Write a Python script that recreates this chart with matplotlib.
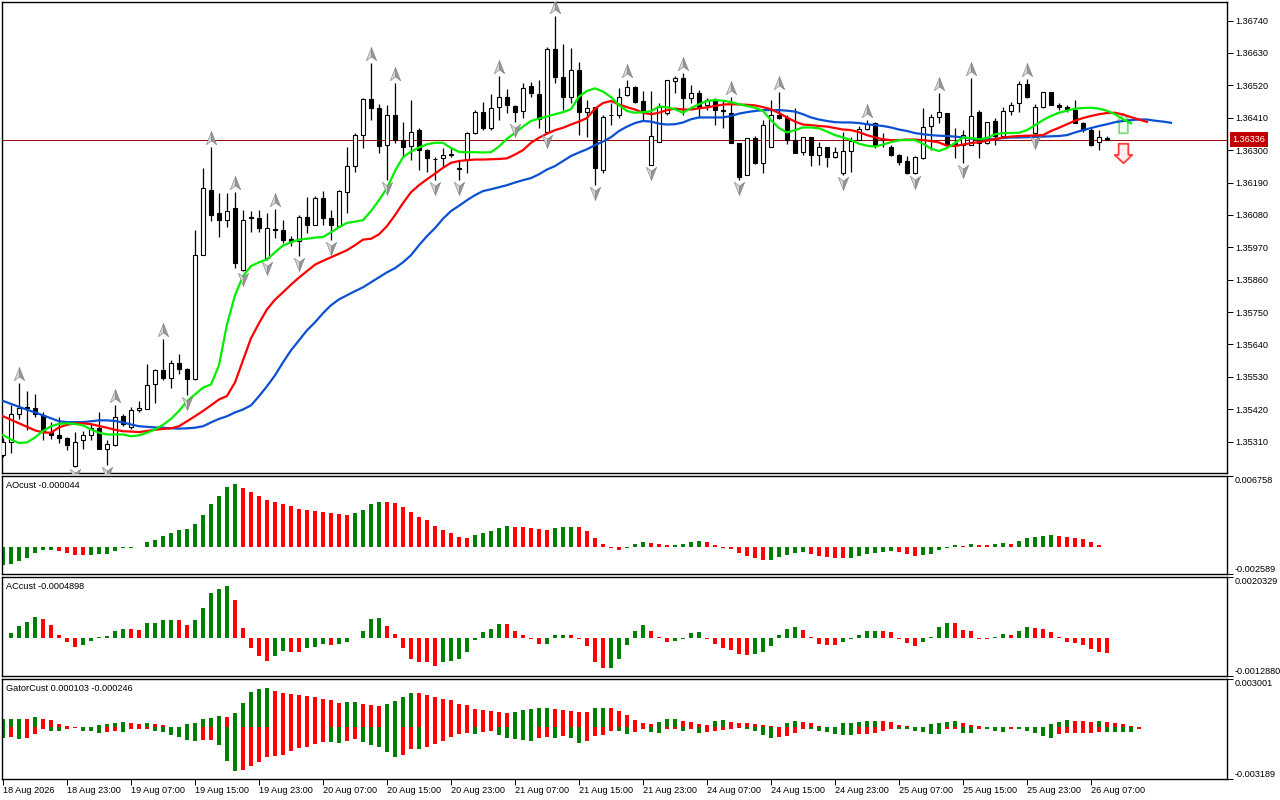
import numpy as np
import matplotlib.pyplot as plt
from matplotlib.path import Path
from matplotlib.transforms import offset_copy, blended_transform_factory

plt.rcParams['font.family'] = ['Liberation Sans', 'DejaVu Sans']
plt.rcParams['font.size'] = 6.6

# ---- H1 candles, 18 Aug 15:00 .. 26 Aug 09:00 ----
opens = [
    1.35266, 1.35308, 1.35405, 1.35426, 1.35423, 1.35399, 1.35342, 1.35333, 1.35323, 1.35226,
    1.35314, 1.35333, 1.35357, 1.35286, 1.35300, 1.35396, 1.35359, 1.35416, 1.35422, 1.35507,
    1.35554, 1.35526, 1.35578, 1.35558, 1.35521, 1.35945, 1.36166, 1.36088, 1.36064, 1.36102,
    1.35892, 1.36070, 1.36071, 1.35935, 1.36031, 1.36030, 1.35997, 1.35992, 1.36073, 1.36045,
    1.36136, 1.36068, 1.36043, 1.36158, 1.36246, 1.36351, 1.36473, 1.36442, 1.36319, 1.36421,
    1.36336, 1.36315, 1.36368, 1.36302, 1.36271, 1.36272, 1.36285, 1.36240, 1.36268, 1.36357,
    1.36428, 1.36374, 1.36445, 1.36481, 1.36451, 1.36433, 1.36518, 1.36489, 1.36362, 1.36642,
    1.36547, 1.36481, 1.36572, 1.36430, 1.36445, 1.36234, 1.36419, 1.36419, 1.36487, 1.36513,
    1.36467, 1.36251, 1.36328, 1.36425, 1.36536, 1.36544, 1.36476, 1.36495, 1.36453, 1.36472,
    1.36436, 1.36427, 1.36323, 1.36215, 1.36340, 1.36255, 1.36311, 1.36421, 1.36408, 1.36336,
    1.36294, 1.36343, 1.36285, 1.36309, 1.36275, 1.36221, 1.36298, 1.36336, 1.36371, 1.36393,
    1.36337, 1.36311, 1.36285, 1.36263, 1.36223, 1.36272, 1.36383, 1.36411, 1.36425, 1.36323,
    1.36319, 1.36319, 1.36428, 1.36323, 1.36399, 1.36348, 1.36433, 1.36461, 1.36524, 1.36357,
    1.36445, 1.36496, 1.36455, 1.36447, 1.36436, 1.36393, 1.36368, 1.36326, 1.36341,
]
highs = [
    1.35321, 1.35433, 1.35509, 1.35482, 1.35470, 1.35410, 1.35376, 1.35393, 1.35324, 1.35342,
    1.35345, 1.35373, 1.35410, 1.35316, 1.35433, 1.35402, 1.35427, 1.35448, 1.35575, 1.35558,
    1.35660, 1.35588, 1.35609, 1.35559, 1.36028, 1.36238, 1.36310, 1.36153, 1.36153, 1.36158,
    1.36096, 1.36094, 1.36096, 1.36085, 1.36100, 1.36064, 1.36008, 1.36079, 1.36141, 1.36144,
    1.36162, 1.36098, 1.36166, 1.36311, 1.36358, 1.36476, 1.36595, 1.36456, 1.36453, 1.36529,
    1.36396, 1.36472, 1.36374, 1.36303, 1.36277, 1.36306, 1.36306, 1.36266, 1.36362, 1.36436,
    1.36464, 1.36490, 1.36552, 1.36506, 1.36455, 1.36529, 1.36532, 1.36538, 1.36651, 1.36756,
    1.36660, 1.36646, 1.36600, 1.36470, 1.36446, 1.36419, 1.36459, 1.36510, 1.36538, 1.36518,
    1.36502, 1.36502, 1.36459, 1.36538, 1.36552, 1.36562, 1.36521, 1.36504, 1.36476, 1.36477,
    1.36470, 1.36481, 1.36324, 1.36341, 1.36348, 1.36402, 1.36470, 1.36498, 1.36419, 1.36442,
    1.36345, 1.36344, 1.36328, 1.36310, 1.36311, 1.36362, 1.36345, 1.36382, 1.36402, 1.36394,
    1.36357, 1.36318, 1.36286, 1.36280, 1.36280, 1.36442, 1.36422, 1.36495, 1.36427, 1.36374,
    1.36368, 1.36544, 1.36436, 1.36396, 1.36408, 1.36445, 1.36464, 1.36535, 1.36541, 1.36456,
    1.36498, 1.36498, 1.36459, 1.36453, 1.36472, 1.36396, 1.36377, 1.36368, 1.36348,
]
lows = [
    1.35256, 1.35271, 1.35388, 1.35348, 1.35393, 1.35314, 1.35320, 1.35305, 1.35282, 1.35222,
    1.35286, 1.35316, 1.35285, 1.35232, 1.35294, 1.35362, 1.35354, 1.35410, 1.35421, 1.35441,
    1.35518, 1.35493, 1.35541, 1.35467, 1.35520, 1.35944, 1.36060, 1.36005, 1.36039, 1.35898,
    1.35891, 1.36022, 1.36022, 1.35926, 1.36003, 1.35985, 1.35974, 1.35940, 1.36017, 1.36044,
    1.36045, 1.35996, 1.36042, 1.36085, 1.36226, 1.36308, 1.36402, 1.36289, 1.36200, 1.36325,
    1.36277, 1.36266, 1.36234, 1.36226, 1.36198, 1.36243, 1.36277, 1.36200, 1.36223, 1.36356,
    1.36368, 1.36368, 1.36402, 1.36427, 1.36396, 1.36408, 1.36481, 1.36375, 1.36357, 1.36528,
    1.36436, 1.36459, 1.36351, 1.36345, 1.36181, 1.36221, 1.36385, 1.36408, 1.36484, 1.36459,
    1.36402, 1.36250, 1.36327, 1.36419, 1.36493, 1.36419, 1.36459, 1.36413, 1.36436, 1.36385,
    1.36374, 1.36324, 1.36198, 1.36214, 1.36254, 1.36223, 1.36310, 1.36407, 1.36320, 1.36290,
    1.36283, 1.36247, 1.36249, 1.36243, 1.36272, 1.36215, 1.36226, 1.36334, 1.36368, 1.36306,
    1.36311, 1.36280, 1.36249, 1.36220, 1.36218, 1.36271, 1.36300, 1.36393, 1.36318, 1.36272,
    1.36255, 1.36318, 1.36272, 1.36322, 1.36317, 1.36340, 1.36421, 1.36430, 1.36476, 1.36356,
    1.36443, 1.36453, 1.36438, 1.36430, 1.36391, 1.36362, 1.36314, 1.36302, 1.36334,
]
closes = [
    1.35307, 1.35405, 1.35425, 1.35424, 1.35402, 1.35342, 1.35333, 1.35323, 1.35298, 1.35308,
    1.35333, 1.35356, 1.35286, 1.35303, 1.35393, 1.35368, 1.35416, 1.35425, 1.35503, 1.35554,
    1.35526, 1.35578, 1.35555, 1.35521, 1.35945, 1.36173, 1.36081, 1.36064, 1.36094, 1.35915,
    1.36064, 1.36072, 1.36037, 1.36034, 1.36030, 1.35996, 1.35991, 1.36073, 1.36045, 1.36136,
    1.36071, 1.36045, 1.36161, 1.36246, 1.36351, 1.36473, 1.36442, 1.36315, 1.36421, 1.36336,
    1.36311, 1.36362, 1.36302, 1.36272, 1.36269, 1.36283, 1.36286, 1.36235, 1.36357, 1.36428,
    1.36374, 1.36442, 1.36481, 1.36453, 1.36428, 1.36510, 1.36493, 1.36405, 1.36642, 1.36549,
    1.36481, 1.36572, 1.36430, 1.36442, 1.36238, 1.36413, 1.36418, 1.36481, 1.36513, 1.36464,
    1.36430, 1.36348, 1.36447, 1.36537, 1.36544, 1.36476, 1.36493, 1.36447, 1.36472, 1.36436,
    1.36432, 1.36325, 1.36209, 1.36340, 1.36255, 1.36385, 1.36421, 1.36408, 1.36336, 1.36291,
    1.36343, 1.36285, 1.36309, 1.36275, 1.36294, 1.36298, 1.36332, 1.36371, 1.36388, 1.36317,
    1.36335, 1.36285, 1.36258, 1.36223, 1.36275, 1.36379, 1.36411, 1.36428, 1.36319, 1.36317,
    1.36353, 1.36417, 1.36323, 1.36394, 1.36348, 1.36434, 1.36455, 1.36524, 1.36481, 1.36445,
    1.36496, 1.36455, 1.36447, 1.36439, 1.36393, 1.36368, 1.36319, 1.36343, 1.36336,
]

# ---- Alligator (already shifted forward: jaw 8, teeth 5, lips 3 bars) ----
jaw = [
    1.35448, 1.35438, 1.35428, 1.35418, 1.35409, 1.35399, 1.35389, 1.35379, 1.35376, 1.35376,
    1.35376, 1.35379, 1.35382, 1.35382, 1.35380, 1.35375, 1.35368, 1.35362, 1.35360, 1.35358,
    1.35357, 1.35355, 1.35354, 1.35355, 1.35357, 1.35362, 1.35375, 1.35387, 1.35396, 1.35409,
    1.35419, 1.35433, 1.35464, 1.35498, 1.35535, 1.35579, 1.35620, 1.35654, 1.35688, 1.35715,
    1.35746, 1.35773, 1.35793, 1.35807, 1.35821, 1.35834, 1.35851, 1.35868, 1.35885, 1.35899,
    1.35919, 1.35943, 1.35977, 1.36008, 1.36035, 1.36067, 1.36093, 1.36111, 1.36130, 1.36147,
    1.36161, 1.36167, 1.36174, 1.36181, 1.36190, 1.36198, 1.36205, 1.36218, 1.36234, 1.36246,
    1.36263, 1.36280, 1.36292, 1.36303, 1.36317, 1.36329, 1.36344, 1.36365, 1.36380, 1.36392,
    1.36399, 1.36397, 1.36390, 1.36387, 1.36388, 1.36394, 1.36405, 1.36411, 1.36411, 1.36411,
    1.36411, 1.36416, 1.36424, 1.36429, 1.36433, 1.36436, 1.36436, 1.36436, 1.36434, 1.36431,
    1.36422, 1.36411, 1.36404, 1.36399, 1.36395, 1.36394, 1.36394, 1.36392, 1.36388, 1.36385,
    1.36382, 1.36377, 1.36370, 1.36365, 1.36358, 1.36354, 1.36351, 1.36349, 1.36348, 1.36346,
    1.36343, 1.36339, 1.36337, 1.36336, 1.36338, 1.36341, 1.36343, 1.36343, 1.36344, 1.36345,
    1.36346, 1.36347, 1.36348, 1.36351, 1.36360, 1.36368, 1.36375, 1.36382, 1.36388, 1.36395,
    1.36399, 1.36402, 1.36404, 1.36404, 1.36400, 1.36397, 1.36393,
]
teeth = [
    1.35396, 1.35384, 1.35372, 1.35360, 1.35348, 1.35341, 1.35340, 1.35358, 1.35367, 1.35372,
    1.35372, 1.35369, 1.35363, 1.35357, 1.35350, 1.35345, 1.35344, 1.35342, 1.35346, 1.35350,
    1.35353, 1.35355, 1.35362, 1.35379, 1.35396, 1.35414, 1.35433, 1.35453, 1.35465, 1.35511,
    1.35586, 1.35661, 1.35712, 1.35759, 1.35792, 1.35817, 1.35843, 1.35867, 1.35889, 1.35911,
    1.35924, 1.35936, 1.35948, 1.35960, 1.35977, 1.35996, 1.35999, 1.36014, 1.36042, 1.36079,
    1.36120, 1.36157, 1.36181, 1.36201, 1.36220, 1.36240, 1.36257, 1.36263, 1.36266, 1.36268,
    1.36268, 1.36269, 1.36270, 1.36272, 1.36285, 1.36300, 1.36325, 1.36342, 1.36356, 1.36368,
    1.36376, 1.36387, 1.36397, 1.36409, 1.36441, 1.36460, 1.36467, 1.36455, 1.36446, 1.36438,
    1.36427, 1.36422, 1.36427, 1.36436, 1.36441, 1.36438, 1.36438, 1.36442, 1.36445, 1.36450,
    1.36455, 1.36456, 1.36455, 1.36454, 1.36452, 1.36446, 1.36439, 1.36426, 1.36411, 1.36397,
    1.36387, 1.36385, 1.36382, 1.36380, 1.36375, 1.36370, 1.36368, 1.36361, 1.36351, 1.36343,
    1.36337, 1.36334, 1.36334, 1.36336, 1.36336, 1.36334, 1.36331, 1.36326, 1.36315, 1.36314,
    1.36319, 1.36324, 1.36327, 1.36332, 1.36337, 1.36343, 1.36346, 1.36348, 1.36349, 1.36350,
    1.36351, 1.36365, 1.36376, 1.36388, 1.36400, 1.36409, 1.36416, 1.36422, 1.36426, 1.36427,
    1.36421, 1.36412, 1.36404, 1.36396,
]
lips = [
    1.35332, 1.35317, 1.35305, 1.35307, 1.35324, 1.35346, 1.35362, 1.35370, 1.35372, 1.35370,
    1.35365, 1.35351, 1.35340, 1.35334, 1.35334, 1.35334, 1.35328, 1.35331, 1.35340, 1.35351,
    1.35367, 1.35387, 1.35414, 1.35447, 1.35470, 1.35493, 1.35504, 1.35569, 1.35708, 1.35807,
    1.35872, 1.35906, 1.35919, 1.35929, 1.35953, 1.35976, 1.35987, 1.35996, 1.35999, 1.36003,
    1.36005, 1.36021, 1.36038, 1.36053, 1.36057, 1.36062, 1.36093, 1.36130, 1.36171, 1.36229,
    1.36276, 1.36295, 1.36309, 1.36320, 1.36325, 1.36325, 1.36307, 1.36294, 1.36293, 1.36293,
    1.36292, 1.36293, 1.36312, 1.36339, 1.36358, 1.36380, 1.36399, 1.36407, 1.36414, 1.36422,
    1.36429, 1.36439, 1.36482, 1.36501, 1.36510, 1.36499, 1.36480, 1.36453, 1.36433, 1.36427,
    1.36429, 1.36432, 1.36448, 1.36446, 1.36439, 1.36427, 1.36443, 1.36456, 1.36467, 1.36470,
    1.36468, 1.36463, 1.36456, 1.36450, 1.36444, 1.36433, 1.36402, 1.36375, 1.36360, 1.36368,
    1.36377, 1.36377, 1.36374, 1.36363, 1.36351, 1.36343, 1.36334, 1.36322, 1.36315, 1.36312,
    1.36319, 1.36327, 1.36334, 1.36334, 1.36334, 1.36322, 1.36305, 1.36297, 1.36307, 1.36324,
    1.36343, 1.36341, 1.36337, 1.36341, 1.36354, 1.36358, 1.36358, 1.36359, 1.36368, 1.36385,
    1.36402, 1.36416, 1.36427, 1.36434, 1.36441, 1.36443, 1.36444, 1.36441, 1.36434, 1.36422,
    1.36405, 1.36391,
]

# fractal bars
up_fractals = [2, 14, 20, 26, 29, 34, 46, 49, 62, 69, 78, 85, 91, 97, 108, 117, 121, 128]
down_fractals = [9, 13, 23, 30, 33, 37, 41, 48, 54, 57, 64, 68, 74, 81, 92, 105, 114, 120, 129]

# signal arrows
signal_bar = 140
signal_buy = 1.36392
signal_sell = 1.36291
bid = 1.36336

# ---- indicator windows (millionths) ----
ao_e6 = [
    -1737, -1579, -1326, -1042, -568, -284, -253, -379, -568, -758,
    -790, -758, -695, -663, -379, -126, -63, -32, 442, 632,
    1011, 1326, 1611, 1705, 2147, 3000, 4042, 4800, 5653, 5937,
    5558, 5242, 4800, 4421, 4232, 4042, 3853, 3569, 3474, 3379,
    3284, 3190, 3095, 3063, 3190, 3474, 4042, 4263, 4232, 4200,
    3758, 3284, 2811, 2526, 1958, 1579, 1295, 916, 821, 1105,
    1295, 1484, 1768, 1958, 1895, 1863, 1832, 1674, 1579, 1832,
    1863, 1895, 1863, 1484, 821, 253, -63, -284, -95, 253,
    442, 347, 253, 158, 221, 253, 442, 537, 442, 158,
    -63, -189, -568, -853, -1042, -1232, -1200, -947, -758, -568,
    -474, -663, -853, -947, -1011, -1042, -1011, -853, -663, -568,
    -474, -379, -474, -663, -853, -758, -663, -284, -63, 158,
    126, 253, 189, 158, 253, 347, 316, 537, 821, 916,
    1011, 1105, 1011, 916, 821, 726, 442, 158, -44,
]
ac_e6 = [
    6, 168, 404, 539, 707, 640, 438, 101, -135, -303,
    -236, -101, 22, 67, 247, 303, 292, 281, 505, 516,
    606, 617, 606, 438, 606, 1010, 1515, 1649, 1750, 1279,
    337, -337, -606, -774, -606, -438, -471, -482, -337, -303,
    -202, -236, -202, -135, -11, 236, 640, 651, 404, 135,
    -337, -707, -808, -819, -942, -808, -774, -707, -471, -67,
    202, 303, 471, 460, 236, 101, -22, -202, -191, 101,
    112, 101, -22, -269, -808, -1010, -999, -707, -236, 236,
    438, 236, 34, -135, -101, -34, 168, 202, -22, -202,
    -337, -404, -539, -572, -539, -471, -269, 101, 303, 370,
    269, 34, -202, -236, -247, -135, -22, 101, 236, 247,
    236, 202, -22, -168, -269, -135, 34, 370, 505, 494,
    269, 236, -22, -45, 34, 135, 101, 236, 370, 337,
    303, 202, 34, -135, -168, -236, -370, -471, -490,
]
gator_up_e6 = [
    521, 531, 542, 521, 625, 521, 458, 188, 63, 21,
    10, 10, 125, 188, 250, 313, 250, 188, 250, 188,
    125, 10, 10, 188, 250, 500, 563, 688, 625, 875,
    1500, 2188, 2417, 2438, 2251, 2126, 2063, 2042, 1938, 1876,
    1751, 1688, 1542, 1563, 1584, 1438, 1375, 1355, 1438, 1626,
    1876, 2167, 2147, 2001, 1876, 1751, 1730, 1438, 1375, 1125,
    1063, 1000, 938, 875, 938, 1063, 1125, 1188, 1198, 1125,
    1063, 1000, 990, 979, 1188, 1198, 1188, 1000, 750, 438,
    250, 188, 313, 500, 511, 375, 313, 188, 177, 375,
    438, 313, 292, 250, 188, 125, 63, 42, 250, 375,
    313, 250, 63, 21, 31, 250, 261, 313, 375, 386,
    375, 354, 125, 63, 42, 21, 188, 250, 313, 375,
    250, 125, 63, 42, 21, 10, 0, 0, 0, 0,
    0, 188, 313, 438, 417, 375, 313, 375, 313, 250,
    188, 63, 0, 10,
]
gator_dn_e6 = [
    625, 604, 709, 625, 375, 63, 188, 208, 125, 42,
    188, 198, 313, 292, 188, 250, 125, 115, 104, 188,
    250, 438, 563, 750, 813, 802, 750, 1063, 2063, 2688,
    2626, 2376, 2126, 1813, 1751, 1688, 1438, 1250, 1188, 1000,
    875, 886, 938, 813, 688, 875, 1063, 1188, 1500, 1813,
    1688, 1313, 1323, 1188, 1000, 813, 563, 375, 313, 375,
    250, 240, 438, 625, 688, 750, 813, 625, 615, 625,
    500, 625, 938, 813, 500, 458, 188, 198, 375, 250,
    63, 250, 313, 125, 115, 188, 63, 313, 292, 188,
    177, 63, 52, 125, 188, 438, 625, 604, 500, 313,
    63, 125, 188, 250, 375, 438, 448, 417, 375, 365,
    208, 63, 73, 83, 188, 250, 375, 386, 125, 115,
    313, 323, 63, 73, 188, 250, 63, 73, 188, 313,
    500, 625, 375, 365, 354, 333, 313, 250, 261, 271,
    281, 292, 63, 0,
]

time_labels = [
    '18 Aug 2026', '18 Aug 23:00', '19 Aug 07:00', '19 Aug 15:00', '19 Aug 23:00',
    '20 Aug 07:00', '20 Aug 15:00', '20 Aug 23:00', '21 Aug 07:00', '21 Aug 15:00',
    '21 Aug 23:00', '24 Aug 07:00', '24 Aug 15:00', '24 Aug 23:00', '25 Aug 07:00',
    '25 Aug 15:00', '25 Aug 23:00', '26 Aug 07:00',
]
time_label_bars = [0, 8, 16, 24, 32, 40, 48, 56, 64, 72, 80, 88, 96, 104, 112, 120, 128, 136]

price_labels = ['1.36740', '1.36630', '1.36520', '1.36410', '1.36300', '1.36190', '1.36080',
                '1.35970', '1.35860', '1.35750', '1.35640', '1.35530', '1.35420', '1.35310']

GREEN = '#008000'
RED = '#FF0000'

W, H = 1280, 800
fig = plt.figure(figsize=(12.8, 8), dpi=100, facecolor='white')


def axes_px(top, bottom, left=2.3, right=1227.3):
    a = fig.add_axes([left / W, 1 - bottom / H, (right - left) / W, (bottom - top) / H])
    a.set_xlim(-0.0875, 153.04)
    for s in a.spines.values():
        s.set_color('black')
        s.set_linewidth(1.0)
    a.yaxis.tick_right()
    a.tick_params(axis='y', direction='out', length=4, width=0.7, pad=1.5, labelsize=6.6)
    a.set_xticks([])
    return a


ax = axes_px(2.3, 473)
ax_ao = axes_px(475.7, 574.3)
ax_ac = axes_px(577.3, 676.3)
ax_g = axes_px(679.3, 778.7)

# ---- main price window ----
o, h, l, c = (np.array(v) for v in (opens, highs, lows, closes))
x = np.arange(len(o))
bull = c >= o
ax.vlines(x, l, h, color='black', lw=0.9, zorder=3)
ax.bar(x, np.abs(c - o), bottom=np.minimum(o, c), width=0.62,
       color=np.where(bull, 'white', 'black'), edgecolor='black', linewidth=0.8, zorder=4)

ax.plot(np.arange(len(jaw)), jaw, color='#0A50D2', lw=1.6, zorder=5)
ax.plot(np.arange(len(teeth)), teeth, color='#FF0000', lw=1.6, zorder=5)
ax.plot(np.arange(len(lips)), lips, color='#00EE00', lw=1.6, zorder=5)

ax.axhline(bid, color='#A00000', lw=0.7, zorder=2)

# fractal arrowheads (two-tone)
MV, LT, CL = Path.MOVETO, Path.LINETO, Path.CLOSEPOLY
up_l = Path([(0, 1), (0, -0.35), (-0.75, -0.9), (0, 1)], [MV, LT, LT, CL])
up_r = Path([(0, 1), (0.75, -0.9), (0, -0.35), (0, 1)], [MV, LT, LT, CL])
dn_l = Path([(0, -1), (0, 0.35), (-0.75, 0.9), (0, -1)], [MV, LT, LT, CL])
dn_r = Path([(0, -1), (0.75, 0.9), (0, 0.35), (0, -1)], [MV, LT, LT, CL])
tr_up = offset_copy(ax.transData, fig=fig, y=9, units='dots')
tr_dn = offset_copy(ax.transData, fig=fig, y=-8, units='dots')
uf = np.array(up_fractals)
df = np.array(down_fractals)
for mk, col in ((up_l, '#D4D4D4'), (up_r, '#969696')):
    ax.plot(uf, h[uf], ls='none', marker=mk, ms=10, mfc=col, mec='#808080', mew=0.4,
            transform=tr_up, zorder=6)
for mk, col in ((dn_l, '#D4D4D4'), (dn_r, '#969696')):
    ax.plot(df, l[df], ls='none', marker=mk, ms=10, mfc=col, mec='#808080', mew=0.4,
            transform=tr_dn, zorder=6)


# signal block arrows
def block_arrow(head, shaft, sign):
    pts = [(0, 1), (head, 0.15), (shaft, 0.15), (shaft, -1), (-shaft, -1), (-shaft, 0.15),
           (-head, 0.15), (0, 1)]
    return Path([(px, sign * py) for px, py in pts], [MV] + [LT] * 6 + [CL])


ax.plot([signal_bar], [signal_buy], marker=block_arrow(0.7, 0.45, 1), ms=14, mfc='#F0FFF0',
        mec='#7EDC7E', mew=1.3, ls='none', zorder=4.6)
ax.plot([signal_bar], [signal_sell], marker=block_arrow(0.9, 0.5, -1), ms=14, mfc='#FFF0F0',
        mec='#FF3B3B', mew=1.3, ls='none', zorder=4.6)

ax.set_ylim(1.352032, 1.368022)
ax.set_yticks([float(p) for p in price_labels])
ax.set_yticklabels(price_labels)
bt = blended_transform_factory(ax.transAxes, ax.transData)
ax.text(1.0045, bid, '1.36336', transform=bt, ha='left', va='center', color='white',
        fontsize=6.6, zorder=10, clip_on=False,
        bbox=dict(boxstyle='square,pad=0.3', fc='#C00000', ec='none'))


# ---- histograms ----
def rising_colors(vals):
    cols = [GREEN]
    for i in range(1, len(vals)):
        cols.append(GREEN if vals[i] > vals[i - 1] else RED)
    return cols


ao = np.array(ao_e6) / 1e6
ax_ao.bar(np.arange(len(ao)), ao, width=0.62, color=rising_colors(ao), linewidth=0)
ax_ao.set_ylim(-0.002589, 0.006758)
ax_ao.set_yticks([0.006758, -0.002589])
ax_ao.set_yticklabels(['0.006758', '-0.002589'])

ac = np.array(ac_e6) / 1e6
ax_ac.bar(np.arange(len(ac)), ac, width=0.62, color=rising_colors(ac), linewidth=0)
ax_ac.set_ylim(-0.0012880, 0.0020329)
ax_ac.set_yticks([0.0020329, -0.0012880])
ax_ac.set_yticklabels(['0.0020329', '-0.0012880'])

gu = np.array(gator_up_e6) / 1e6
gd = np.array(gator_dn_e6) / 1e6
ax_g.bar(np.arange(len(gu)), gu, width=0.62, color=rising_colors(gu), linewidth=0)
ax_g.bar(np.arange(len(gd)), -gd, width=0.62, color=rising_colors(gd), linewidth=0)
ax_g.set_ylim(-0.003189, 0.003001)
ax_g.set_yticks([0.003001, -0.003189])
ax_g.set_yticklabels(['0.003001', '-0.003189'])

for a in (ax_ao, ax_ac, ax_g):
    labs = a.get_yticklabels()
    labs[0].set_va('top')
    labs[1].set_va('bottom')

ax_ao.text(0.0033, 0.905, 'AOcust -0.000044', transform=ax_ao.transAxes, va='center', fontsize=6.6)
ax_ac.text(0.0033, 0.905, 'ACcust -0.0004898', transform=ax_ac.transAxes, va='center', fontsize=6.6)
ax_g.text(0.0033, 0.905, 'GatorCust 0.000103 -0.000246', transform=ax_g.transAxes, va='center',
          fontsize=6.6)

# time axis
ax_g.set_xticks(time_label_bars)
ax_g.set_xticklabels(time_labels, ha='left')
ax_g.tick_params(axis='x', direction='out', length=4, width=0.7, pad=1, labelsize=6.6)

fig.savefig('out.png', dpi=100, facecolor='white')
